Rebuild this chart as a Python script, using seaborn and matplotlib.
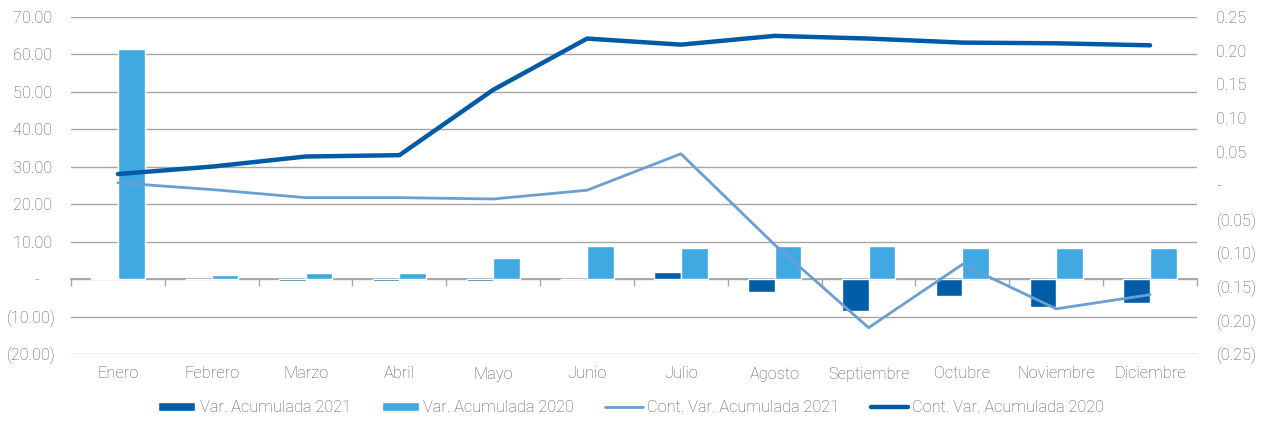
import numpy as np
import pandas as pd
import seaborn as sns
import matplotlib.pyplot as plt
from matplotlib.ticker import FuncFormatter
from matplotlib.patches import Patch
from matplotlib.lines import Line2D

meses = ["Enero", "Febrero", "Marzo", "Abril", "Mayo", "Junio", "Julio",
         "Agosto", "Septiembre", "Octubre", "Noviembre", "Diciembre"]

# bars (left axis)
var_2021 = [0.4, -0.1, -0.5, -0.5, -0.5, -0.1, 2.0, -3.4, -8.5, -4.6, -7.4, -6.5]
var_2020 = [61.5, 1.2, 1.7, 1.7, 5.7, 8.9, 8.4, 8.9, 8.9, 8.4, 8.4, 8.4]

# lines (right axis)
cont_2021 = [0.004, -0.006, -0.018, -0.018, -0.020, -0.007, 0.047,
             -0.088, -0.211, -0.117, -0.183, -0.162]
cont_2020 = [0.017, 0.028, 0.043, 0.045, 0.142, 0.218, 0.209,
             0.222, 0.218, 0.212, 0.211, 0.208]

series = ["Var. Acumulada 2021", "Var. Acumulada 2020"]
palette = {
    "Var. Acumulada 2021": "#005EA8",  # dark blue
    "Var. Acumulada 2020": "#41A9E1",  # light blue
}
line_light = "#6A9FD2"
line_dark = "#005BA4"
text_gray = "#595959"
grid_gray = "#A6A6A6"
fs = 11.8

df = pd.DataFrame({
    "Mes": meses * 2,
    "Serie": [series[0]] * 12 + [series[1]] * 12,
    "Valor": var_2021 + var_2020,
})

sns.set_style("white")
plt.rcParams["font.family"] = ["Roboto", "DejaVu Sans"]
plt.rcParams["font.weight"] = "light"

fig = plt.figure(figsize=(12.62, 4.21), dpi=100)
ax = fig.add_axes([71 / 1262, 1 - 354 / 421, (1197 - 71) / 1262, (354 - 17) / 421])

sns.barplot(data=df, x="Mes", y="Valor", hue="Serie", order=meses,
            hue_order=series, palette=palette, width=0.57, saturation=1,
            legend=False, ax=ax)

ax.set_xlim(-0.5, 11.5)
ax.set_ylim(-20, 70)
ax.set_yticks(np.arange(-20, 71, 10))
ax.set_xlabel("")
ax.set_ylabel("")
ax.yaxis.grid(True, color=grid_gray, lw=1)
ax.set_axisbelow(True)
for s in ax.spines.values():
    s.set_visible(False)


def fmt_left(v, pos):
    if abs(v) < 1e-9:
        return "-    "
    if v < 0:
        return f"({abs(v):.2f})"
    return f"{v:.2f} "


def fmt_right(v, pos):
    if abs(v) < 1e-9:
        return "-"
    if v < 0:
        return f"({abs(v):.2f})"
    return f"{v:.2f}"


ax.yaxis.set_major_formatter(FuncFormatter(fmt_left))
ax.tick_params(axis="y", length=0, pad=11, labelsize=fs, labelcolor=text_gray)
ax.tick_params(axis="x", length=0, pad=9, labelsize=fs, labelcolor=text_gray)

# zero axis line with category boundary ticks
zero_loc = (0 - (-20)) / (70 - (-20))
sec = ax.secondary_xaxis(zero_loc)
sec.set_xticks(np.arange(-0.5, 12, 1))
sec.set_xticklabels([])
sec.tick_params(axis="x", length=5, width=1, color=grid_gray, direction="out")
sec.spines["bottom"].set_color(grid_gray)
sec.spines["bottom"].set_linewidth(1.3)

ax2 = ax.twinx()
x = np.arange(len(meses))
sns.lineplot(x=x, y=cont_2021, color=line_light, lw=2, ax=ax2)
sns.lineplot(x=x, y=cont_2020, color=line_dark, lw=3.2, ax=ax2)
ax2.set_ylim(-0.25, 0.25)
ax2.set_yticks(np.linspace(-0.25, 0.25, 11))
ax2.yaxis.set_major_formatter(FuncFormatter(fmt_right))
ax2.tick_params(axis="y", length=0, pad=14, labelsize=fs, labelcolor=text_gray)
for s in ax2.spines.values():
    s.set_visible(False)
ax2.grid(False)

handles = [
    Patch(facecolor=palette[series[0]]),
    Patch(facecolor=palette[series[1]]),
    Line2D([], [], color=line_light, lw=2),
    Line2D([], [], color=line_dark, lw=3.2),
]
labels = series + ["Cont. Var. Acumulada 2021", "Cont. Var. Acumulada 2020"]
fig.legend(handles, labels, loc="center", bbox_to_anchor=(0.5, 1 - 408 / 421),
           ncol=4, frameon=False, handlelength=2.3, handleheight=0.5,
           handletextpad=0.25, columnspacing=1.9, fontsize=fs,
           labelcolor=text_gray)

fig.savefig("out.png", dpi=100)
